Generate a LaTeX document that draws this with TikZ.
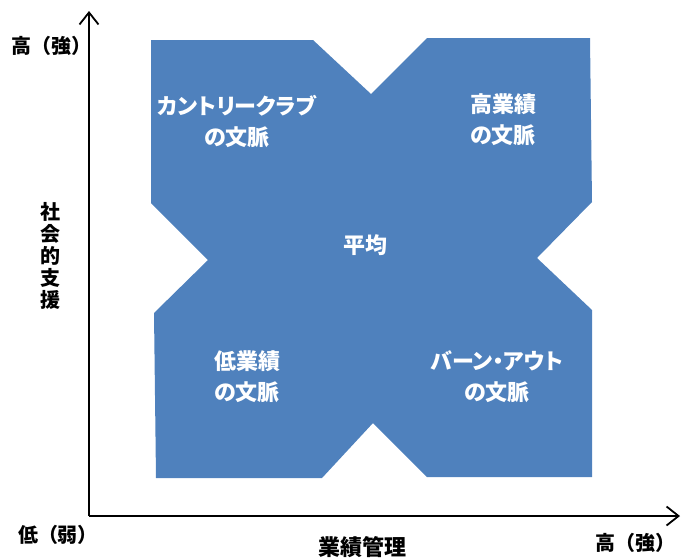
\documentclass[tikz,border=0pt]{standalone}
\usepackage{fontspec}
\newfontfamily\jp{Noto Sans CJK JP}[RawFeature=+palt]
\newfontfamily\jpax{Noto Sans CJK JP}
\usetikzlibrary{arrows.meta}
\definecolor{qblue}{HTML}{4F81BD}
\tikzset{
  blob/.style={fill=qblue},
  axis/.style={line width=1.8pt,-{Straight Barb[length=12pt,width=19pt,line width=1.8pt]}},
  qlabel/.style={text=white,align=center,inner sep=0pt,font=\jp\bfseries\fontsize{22}{31}\selectfont},
  axlabel/.style={text=black,align=center,inner sep=0pt,font=\jpax\bfseries\fontsize{20}{22}\selectfont},
}
\begin{document}
\begin{tikzpicture}[x=1pt,y=-1pt]
\useasboundingbox (0,0) rectangle (681,558);
\fill[blob] (151,40) -- (313,40) -- (371,94) -- (427,38) -- (590,38) -- (592,202) -- (537,258) -- (592,310) -- (592,477) -- (427,477) -- (373,423) -- (322,478) -- (156,478) -- (154,313) -- (208,260) -- (151,203) -- cycle;
\coordinate (o) at (89,516);
\coordinate (ytop) at (89,11);
\coordinate (xend) at (680,516);
\draw[axis] (o) -- (ytop);
\draw[axis] (o) -- (xend);
\node[qlabel] (cc) at (237,121) {カントリークラブ\\の文脈};
\node[qlabel] (hp) at (503,120) {高業績\\の文脈};
\node[qlabel] (av) at (365,245) {平均};
\node[qlabel] (lp) at (247,377) {低業績\\の文脈};
\node[qlabel] (bo) at (497,377) {バーン・アウト\\の文脈};
\node[axlabel] (yhi) at (52,46) {高（強）};
\node[axlabel] (ylab) at (50,256) {社\\会\\的\\支\\援};
\node[axlabel] (lo) at (58,535) {低（弱）};
\node[axlabel,font=\jpax\bfseries\fontsize{22}{24}\selectfont] (xlab) at (362,547) {業績管理};
\node[axlabel] (xhi) at (635,543) {高（強）};
\end{tikzpicture}
\end{document}
